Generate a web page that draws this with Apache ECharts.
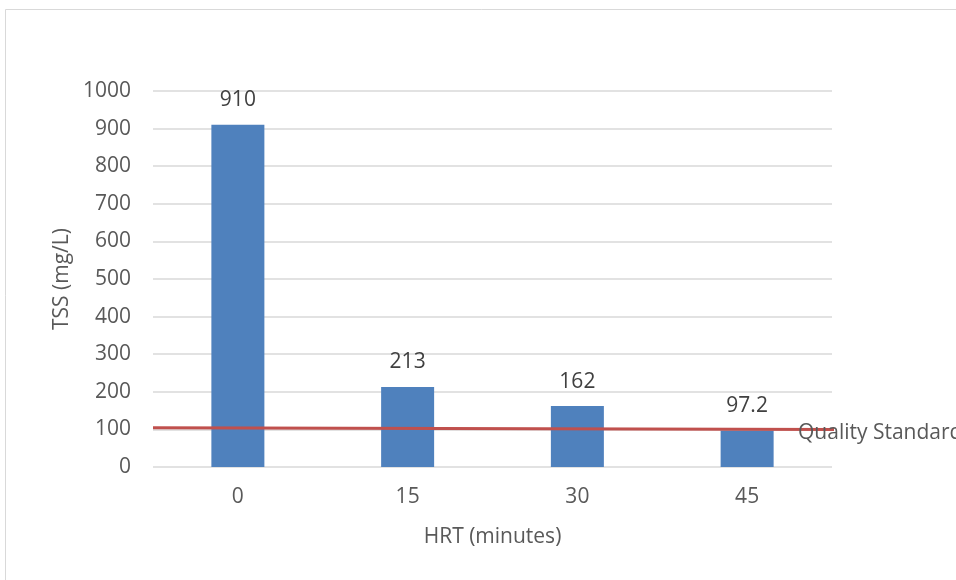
<!DOCTYPE html>
<html>
<head>
<meta charset="utf-8">
<script src="https://cdn.jsdelivr.net/npm/echarts@6/dist/echarts.min.js"></script>
<style>
html,body{margin:0;padding:0;background:#fff;}
#chart{width:956px;height:580px;}
</style>
</head>
<body>
<div id="chart"></div>
<script>
const categories = ['0', '15', '30', '45'];
const tssValues = [910, 213, 162, 97.2];
const standardX = [0, 4.03];
const standardY = [104.5, 99.5];
const yTicks = [0, 100, 200, 300, 400, 500, 600, 700, 800, 900, 1000];

const FONT = "'Open Sans', sans-serif";
const FS = 21;
const chart = echarts.init(document.getElementById('chart'), null, {renderer: 'canvas'});
chart.setOption({
  animation: false,
  backgroundColor: '#fff',
  graphic: [{
    type: 'rect', silent: true, z: -10,
    shape: {x: 5.5, y: 9.5, width: 2000, height: 2000},
    style: {fill: 'none', stroke: '#d9d9d9', lineWidth: 1}
  }],
  grid: {left: 153, right: 124, top: 91, bottom: 113, containLabel: false},
  xAxis: [{
    type: 'category',
    data: categories,
    name: 'HRT (minutes)',
    nameLocation: 'middle',
    nameGap: 60,
    nameTextStyle: {fontFamily: FONT, fontSize: FS, color: '#595959'},
    axisLine: {show: false},
    axisTick: {show: false},
    axisLabel: {fontFamily: FONT, fontSize: FS, color: '#595959', margin: 20}
  }, {
    type: 'value', min: 0, max: 4, show: false
  }],
  yAxis: {
    type: 'value',
    min: yTicks[0], max: yTicks[yTicks.length - 1], interval: 100,
    name: 'TSS (mg/L)',
    nameLocation: 'middle',
    nameGap: 80,
    nameTextStyle: {fontFamily: FONT, fontSize: FS, color: '#595959'},
    axisLine: {show: false},
    axisTick: {show: false},
    axisLabel: {fontFamily: FONT, fontSize: FS, color: '#595959', margin: 22, formatter: v => String(v)},
    splitLine: {lineStyle: {color: '#d9d9d9', width: 1.5}}
  },
  series: [{
    type: 'bar',
    data: tssValues,
    barWidth: 53,
    itemStyle: {color: '#4F81BD'},
    label: {show: true, position: 'top', distance: 14, fontFamily: FONT, fontSize: FS, color: '#404040'}
  }, {
    type: 'line',
    xAxisIndex: 1,
    data: standardX.map((x, i) => [x, standardY[i]]),
    symbol: 'none',
    clip: false,
    lineStyle: {color: '#C0504D', width: 3},
    endLabel: {show: true, formatter: 'Quality Standard', offset: [-44, 3], fontFamily: FONT, fontSize: FS, color: '#595959'},
    z: 5
  }]
});
</script>
</body>
</html>
